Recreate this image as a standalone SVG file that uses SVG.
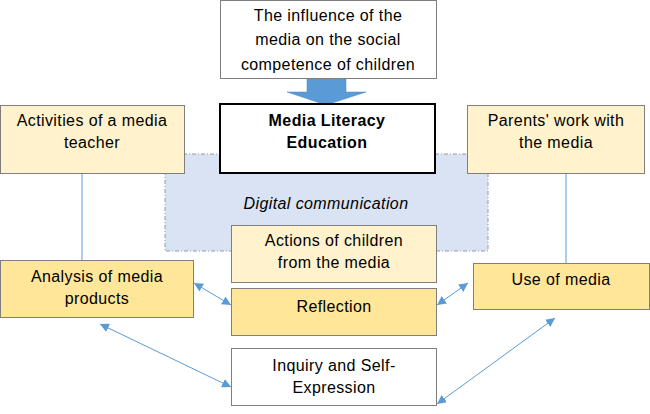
<svg xmlns="http://www.w3.org/2000/svg" width="650" height="414" viewBox="0 0 650 414">
<defs>
<style>
text{font-family:"Liberation Sans",Arial,sans-serif;font-size:16px;fill:#000;text-anchor:middle;letter-spacing:0.4px}
.b{font-weight:bold}
.i{font-style:italic}
.box{stroke:#7f7f7f;stroke-width:1}
.lt{fill:#fff2cc}
.dk{fill:#ffe699}
.wh{fill:#fff}
.con{stroke:#5b9bd5;stroke-width:1;fill:none}
</style>
<marker id="ah" viewBox="0 0 10 10" refX="10" refY="5" markerWidth="9" markerHeight="9" markerUnits="userSpaceOnUse" orient="auto-start-reverse">
<path d="M0,0 L10,5 L0,10 z" fill="#5b9bd5"/>
</marker>
</defs>
<rect width="650" height="414" fill="#fff"/>
<g id="digital">
<rect x="165" y="154" width="323" height="97" fill="#dae3f3" stroke="#8c9bb0" stroke-width="1" stroke-dasharray="4,2,1,2"/>
<text x="326" y="209" class="i">Digital communication</text>
</g>
<g id="connectors">
<line class="con" x1="82" y1="173" x2="82" y2="260"/>
<line class="con" x1="566" y1="173" x2="566" y2="263"/>
<line class="con" x1="194" y1="283" x2="231" y2="305" marker-start="url(#ah)" marker-end="url(#ah)"/>
<line class="con" x1="100" y1="324" x2="231" y2="387" marker-start="url(#ah)" marker-end="url(#ah)"/>
<line class="con" x1="437" y1="305" x2="468" y2="283" marker-start="url(#ah)" marker-end="url(#ah)"/>
<line class="con" x1="437" y1="404" x2="555" y2="318" marker-start="url(#ah)" marker-end="url(#ah)"/>
<path d="M307,78 H346 V92 H366 L326,105 L287,92 H307 Z" fill="#5b9bd5" stroke="#4a86c0" stroke-width="0.5"/>
</g>
<g id="influence">
<rect class="box wh" x="220.5" y="0.5" width="216" height="78"/>
<text x="328" y="21">The influence of the</text>
<text x="328" y="45">media on the social</text>
<text x="328" y="70">competence of children</text>
</g>
<g id="mle">
<rect x="220" y="104" width="215" height="69" fill="#fff" stroke="#000" stroke-width="2"/>
<text x="327" y="126" class="b">Media Literacy</text>
<text x="327" y="148" class="b">Education</text>
</g>
<g id="activities">
<rect class="box lt" x="0.5" y="105.5" width="184" height="68"/>
<text x="92" y="126">Activities of a media</text>
<text x="92" y="148">teacher</text>
</g>
<g id="parents">
<rect class="box lt" x="467.5" y="105.5" width="177" height="68"/>
<text x="556" y="126">Parents' work with</text>
<text x="556" y="148">the media</text>
</g>
<g id="analysis">
<rect class="box dk" x="0.5" y="260.5" width="193" height="57"/>
<text x="97" y="282">Analysis of media</text>
<text x="97" y="304">products</text>
</g>
<g id="actions">
<rect class="box lt" x="231.5" y="225.5" width="205" height="57"/>
<text x="334" y="246">Actions of children</text>
<text x="334" y="268">from the media</text>
</g>
<g id="reflection">
<rect class="box dk" x="231.5" y="288.5" width="205" height="47"/>
<text x="334" y="312">Reflection</text>
</g>
<g id="inquiry">
<rect class="box wh" x="231.5" y="348.5" width="205" height="57"/>
<text x="334" y="371">Inquiry and Self-</text>
<text x="334" y="393">Expression</text>
</g>
<g id="use">
<rect class="box dk" x="473.5" y="263.5" width="176" height="46"/>
<text x="561" y="285">Use of media</text>
</g>
</svg>
